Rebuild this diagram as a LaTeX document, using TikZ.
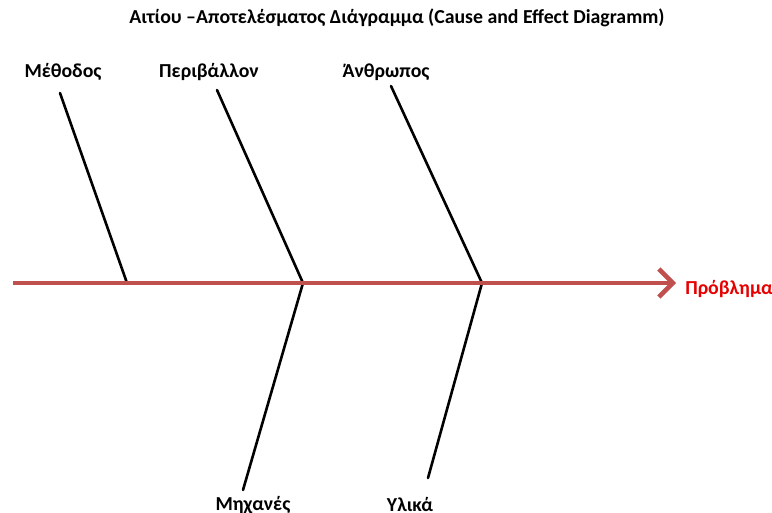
\documentclass[tikz,border=0pt]{standalone}
\usepackage{fontspec}
\setmainfont{Carlito}
\usetikzlibrary{arrows.meta}
\definecolor{spine}{RGB}{192,80,77}
\definecolor{probred}{RGB}{230,0,0}
\tikzset{
  bone/.style={line width=2.6pt, black, line cap=round},
  lbl/.style={font=\bfseries\fontsize{19.8}{22}\selectfont, inner sep=0pt},
}
\begin{document}
\begin{tikzpicture}[x=1pt,y=-1pt]
\useasboundingbox (0,0) rectangle (772,513);
\node[lbl] (title) at (397,18) {Αιτίου –Αποτελέσματος Διάγραμμα (Cause and Effect Diagramm)};
\coordinate (s0) at (13,283);
\coordinate (s1) at (676,283);
\coordinate (j1) at (127,283);
\coordinate (j2) at (303,283);
\coordinate (j3) at (482,283);
\coordinate (m0) at (60,93);
\coordinate (p0) at (217,90);
\coordinate (a0) at (391,86);
\coordinate (c0) at (243,490);
\coordinate (y0) at (428,478);
\draw[bone] (m0) -- (j1);
\draw[bone] (p0) -- (j2) -- (c0);
\draw[bone] (a0) -- (j3) -- (y0);
\draw[spine, line width=4.5pt, -{Straight Barb[length=14pt,width=28pt,line width=4.5pt]}] (s0) -- (s1);
\node[lbl] (met) at (63,72) {Μέθοδος};
\node[lbl] (per) at (209,72) {Περιβάλλον};
\node[lbl] (anth) at (386,72) {Άνθρωπος};
\node[lbl] (mech) at (253,505) {Μηχανές};
\node[lbl] (yl) at (410,505) {Υλικά};
\node[lbl, text=probred] (prob) at (729,289) {Πρόβλημα};
\end{tikzpicture}
\end{document}
